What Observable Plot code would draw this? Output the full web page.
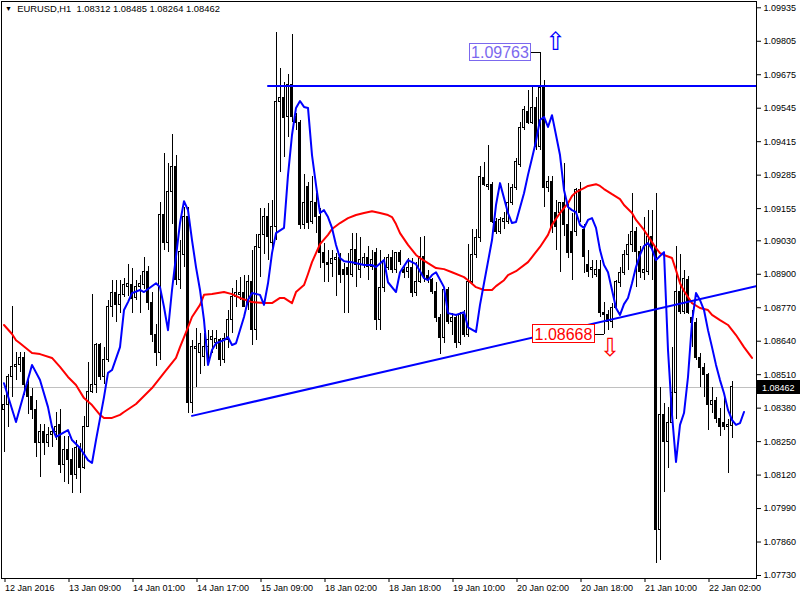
<!DOCTYPE html>
<html><head><meta charset="utf-8">
<script src="https://cdn.jsdelivr.net/npm/d3@7"></script>
<script src="https://cdn.jsdelivr.net/npm/@observablehq/plot@0.6"></script>
<style>
body{margin:0;background:#fff;}
#wrap{position:relative;width:800px;height:600px;overflow:hidden;background:#fff;}
#title{position:absolute;left:5px;top:3px;font:9.4px "Liberation Sans",Arial,sans-serif;color:#000;white-space:pre;}
#title .tri{font-size:7px;position:relative;top:-1px;}
</style></head><body><div id="wrap"><div id="title"></div></div>
<script>
const symbol = "EURUSD,H1";
const timeTickBars = [0,16,32,48,64,80,96,112,128,144,160,176];
const timeTickLabels = ["12 Jan 2016","13 Jan 09:00","14 Jan 01:00","14 Jan 17:00","15 Jan 09:00","18 Jan 02:00","18 Jan 18:00","19 Jan 10:00","20 Jan 02:00","20 Jan 18:00","21 Jan 10:00","22 Jan 02:00"];
const priceTickLabels = ["1.09935","1.09805","1.09675","1.09545","1.09415","1.09285","1.09155","1.09030","1.08900","1.08770","1.08640","1.08510","1.08380","1.08250","1.08120","1.07990","1.07860","1.07730"];

const open = [
1.08373,1.08392,1.08501,1.08540,1.08548,1.08575,1.08470,1.08423,1.08373,1.08244,
1.08287,1.08244,1.08276,1.08287,1.08315,1.08159,1.08217,1.08178,1.08121,1.08225,
1.08147,1.08307,1.08442,1.08470,1.08625,1.08501,1.08567,1.08773,1.08827,1.08781,
1.08820,1.08850,1.08858,1.08808,1.08850,1.08858,1.08908,1.08788,1.08664,1.08594,
1.09130,1.09021,1.09219,1.09317,1.08877,1.08975,1.09122,1.08399,1.08609,1.08594,
1.08579,1.08617,1.08644,1.08632,1.08644,1.08567,1.08644,1.08722,1.08812,1.08820,
1.08827,1.08781,1.08869,1.08683,1.09002,1.09053,1.09122,1.09021,1.09084,1.09569,
1.09584,1.09511,1.09635,1.09511,1.09487,1.09092,1.09239,1.09103,1.09176,1.09122,
1.08982,1.08943,1.08939,1.08955,1.08963,1.08916,1.08924,1.08897,1.08994,1.08916,
1.08936,1.08963,1.08928,1.08982,1.08722,1.08846,1.08924,1.08963,1.08916,1.08982,
1.08916,1.08908,1.08924,1.08827,1.08869,1.08967,1.08893,1.08877,1.08831,1.08730,
1.08652,1.08839,1.08714,1.08730,1.08632,1.08742,1.08664,1.08869,1.08975,1.09041,
1.09274,1.09239,1.09247,1.09103,1.09064,1.09103,1.09103,1.09176,1.09235,1.09325,
1.09468,1.09530,1.09487,1.09546,1.09394,1.09623,1.09235,1.09258,1.09137,1.09137,
1.09176,1.09092,1.09064,1.09064,1.09227,1.09072,1.08936,1.08916,1.08897,1.08916,
1.08749,1.08742,1.08714,1.08769,1.08865,1.08904,1.08975,1.09014,1.09064,1.08986,
1.08904,1.08908,1.09045,1.09006,1.07906,1.08354,1.08248,1.08322,1.08438,1.08831,
1.08753,1.08877,1.08730,1.08710,1.08575,1.08536,1.08509,1.08392,1.08407,1.08338,
1.08322,1.08307,1.08312];
const high = [
1.08431,1.08509,1.08773,1.08598,1.08598,1.08598,1.08501,1.08458,1.08411,1.08315,
1.08315,1.08303,1.08307,1.08365,1.08373,1.08268,1.08268,1.08225,1.08256,1.08244,
1.08346,1.08559,1.08820,1.08632,1.08632,1.08617,1.08800,1.08877,1.08877,1.08877,
1.08885,1.08939,1.08924,1.08877,1.08897,1.08967,1.08932,1.08831,1.08703,1.09180,
1.09370,1.09332,1.09441,1.09363,1.09033,1.09161,1.09161,1.08644,1.08691,1.08671,
1.08671,1.08683,1.08683,1.08683,1.08652,1.08671,1.08761,1.08846,1.08877,1.08889,
1.08897,1.08897,1.08994,1.09053,1.09157,1.09157,1.09176,1.09188,1.09841,1.09701,
1.09646,1.09674,1.09830,1.09526,1.09499,1.09286,1.09258,1.09278,1.09215,1.09157,
1.09021,1.08994,1.08994,1.08982,1.08982,1.08943,1.08982,1.09060,1.09060,1.09041,
1.08982,1.09006,1.08994,1.09002,1.08994,1.08967,1.08975,1.08994,1.08986,1.08994,
1.08936,1.08963,1.08963,1.08947,1.09041,1.09045,1.08916,1.08885,1.08869,1.08742,
1.08850,1.08850,1.08749,1.08742,1.08753,1.08761,1.09014,1.09072,1.09072,1.09317,
1.09336,1.09402,1.09258,1.09118,1.09122,1.09141,1.09254,1.09247,1.09351,1.09491,
1.09550,1.09615,1.09635,1.09588,1.09763,1.09654,1.09278,1.09278,1.09188,1.09180,
1.09332,1.09176,1.09137,1.09235,1.09258,1.09092,1.08994,1.08955,1.08955,1.08955,
1.08792,1.08761,1.08788,1.08877,1.08928,1.08994,1.09053,1.09215,1.09080,1.09006,
1.09122,1.09149,1.09149,1.09215,1.08462,1.08399,1.08384,1.08617,1.09006,1.08975,
1.08916,1.08893,1.08761,1.08730,1.08594,1.08555,1.08516,1.08462,1.08423,1.08380,
1.08438,1.08334,1.08485];
const low = [
1.08209,1.08303,1.08423,1.08489,1.08520,1.08431,1.08354,1.08334,1.08190,1.08109,
1.08198,1.08229,1.08229,1.08256,1.08128,1.08093,1.08082,1.08050,1.08101,1.08050,
1.08140,1.08303,1.08438,1.08438,1.08489,1.08470,1.08559,1.08734,1.08714,1.08749,
1.08808,1.08812,1.08749,1.08800,1.08749,1.08839,1.08761,1.08636,1.08540,1.08567,
1.08994,1.08986,1.09092,1.08858,1.08839,1.08928,1.08361,1.08361,1.08462,1.08509,
1.08540,1.08559,1.08594,1.08606,1.08540,1.08555,1.08613,1.08671,1.08769,1.08800,
1.08769,1.08761,1.08625,1.08644,1.08889,1.08975,1.08955,1.08982,1.09033,1.09297,
1.09355,1.09433,1.09491,1.09460,1.09072,1.09072,1.09072,1.09092,1.09060,1.08924,
1.08869,1.08869,1.08889,1.08812,1.08865,1.08749,1.08749,1.08889,1.08850,1.08885,
1.08924,1.08877,1.08916,1.08683,1.08683,1.08831,1.08916,1.08904,1.08904,1.08936,
1.08885,1.08885,1.08808,1.08812,1.08865,1.08869,1.08865,1.08820,1.08714,1.08587,
1.08632,1.08703,1.08664,1.08613,1.08625,1.08656,1.08656,1.08865,1.08963,1.09025,
1.09239,1.09227,1.09099,1.09053,1.09053,1.09072,1.09092,1.09169,1.09227,1.09313,
1.09460,1.09480,1.09480,1.09382,1.09382,1.09161,1.09219,1.09060,1.08994,1.08908,
1.09045,1.08963,1.08877,1.09045,1.09103,1.08904,1.08889,1.08885,1.08889,1.08734,
1.08668,1.08683,1.08691,1.08761,1.08850,1.08897,1.08916,1.08986,1.08850,1.08885,
1.08877,1.08897,1.08877,1.07778,1.07790,1.08054,1.08147,1.08307,1.08334,1.08742,
1.08742,1.08742,1.08617,1.08567,1.08462,1.08423,1.08295,1.08361,1.08322,1.08268,
1.08295,1.08128,1.08264];
const close = [
1.08392,1.08501,1.08540,1.08548,1.08575,1.08470,1.08423,1.08373,1.08244,1.08287,
1.08244,1.08276,1.08287,1.08307,1.08159,1.08217,1.08178,1.08121,1.08225,1.08147,
1.08307,1.08442,1.08470,1.08625,1.08501,1.08567,1.08773,1.08827,1.08781,1.08820,
1.08858,1.08861,1.08804,1.08850,1.08861,1.08908,1.08788,1.08664,1.08594,1.09130,
1.09021,1.09219,1.09317,1.08877,1.08986,1.09122,1.08399,1.08617,1.08617,1.08628,
1.08617,1.08644,1.08656,1.08648,1.08567,1.08648,1.08722,1.08812,1.08827,1.08827,
1.08773,1.08869,1.08683,1.09006,1.09053,1.09122,1.09045,1.09084,1.09569,1.09584,
1.09507,1.09635,1.09511,1.09487,1.09092,1.09176,1.09099,1.09180,1.09122,1.08982,
1.08943,1.08936,1.08959,1.08963,1.08897,1.08897,1.08897,1.08994,1.08936,1.08955,
1.08963,1.08928,1.08955,1.08722,1.08846,1.08947,1.08963,1.08916,1.08982,1.08947,
1.08904,1.08924,1.08827,1.08869,1.08967,1.08889,1.08877,1.08831,1.08730,1.08652,
1.08839,1.08714,1.08730,1.08632,1.08742,1.08664,1.08869,1.08975,1.09041,1.09278,
1.09247,1.09247,1.09103,1.09064,1.09111,1.09114,1.09176,1.09235,1.09336,1.09468,
1.09538,1.09487,1.09546,1.09394,1.09623,1.09235,1.09258,1.09084,1.09084,1.09176,
1.09092,1.08982,1.08982,1.09227,1.09137,1.08967,1.08908,1.08924,1.08916,1.08749,
1.08742,1.08714,1.08769,1.08869,1.08904,1.08975,1.09014,1.09064,1.08986,1.08908,
1.08916,1.09045,1.09006,1.07906,1.08354,1.08248,1.08322,1.08438,1.08831,1.08753,
1.08881,1.08749,1.08710,1.08575,1.08536,1.08509,1.08392,1.08407,1.08338,1.08307,
1.08307,1.08315,1.08462];

// fast moving average (blue), [bar, price]
const blueMA = [[0,1.08477],[3,1.08326],[7,1.08548],[9,1.08489],[11,1.08384],[12,1.08307],[13,1.08268],[16,1.08295],[17,1.08256],[19,1.08225],[21,1.08178],[22,1.08167],[23,1.08256],[25,1.08423],[26,1.08517],[27,1.08528],[29,1.08617],[30,1.08761],[31,1.08792],[32,1.08827],[34,1.08839],[35,1.08831],[38,1.08865],[39,1.08850],[40,1.08773],[41,1.08683],[42,1.08839],[44,1.09099],[45,1.09184],[46,1.09149],[47,1.09033],[48,1.08928],[49,1.08839],[50,1.08722],[51,1.08548],[52,1.08606],[53,1.08632],[55,1.08644],[56,1.08656],[57,1.08625],[58,1.08632],[60,1.08734],[61,1.08800],[62,1.08827],[64,1.08820],[65,1.08781],[66,1.08865],[67,1.08982],[68,1.09060],[70,1.09080],[71,1.09285],[72,1.09441],[73,1.09546],[74,1.09573],[75,1.09550],[76,1.09546],[77,1.09363],[78,1.09247],[79,1.09138],[80,1.09149],[81,1.09122],[82,1.09080],[83,1.09014],[84,1.08963],[85,1.08951],[87,1.08947],[90,1.08936],[92,1.08936],[93,1.08928],[95,1.08955],[96,1.08869],[98,1.08831],[99,1.08908],[101,1.08955],[103,1.08939],[105,1.08885],[106,1.08877],[107,1.08897],[108,1.08908],[110,1.08850],[111,1.08749],[113,1.08742],[115,1.08753],[116,1.08694],[118,1.08676],[119,1.08781],[120,1.08865],[122,1.09033],[123,1.09169],[124,1.09254],[126,1.09138],[127,1.09099],[128,1.09103],[130,1.09215],[131,1.09286],[132,1.09351],[133,1.09417],[134,1.09499],[135,1.09511],[136,1.09472],[137,1.09518],[138,1.09441],[139,1.09363],[140,1.09227],[141,1.09161],[142,1.09149],[143,1.09141],[144,1.09092],[145,1.09080],[146,1.09111],[147,1.09118],[148,1.09080],[149,1.08994],[150,1.08936],[151,1.08908],[152,1.08839],[153,1.08769],[154,1.08742],[155,1.08784],[156,1.08808],[157,1.08865],[158,1.08928],[159,1.08975],[160,1.09010],[161,1.09021],[162,1.08998],[163,1.08955],[164,1.08971],[165,1.08986],[166,1.08606],[167,1.08354],[168,1.08171],[169,1.08315],[170,1.08361],[171,1.08501],[172,1.08714],[173,1.08827],[174,1.08800],[175,1.08761],[176,1.08683],[177,1.08617],[178,1.08548],[179,1.08489],[180,1.08438],[181,1.08373],[182,1.08334],[183,1.08315],[184,1.08322],[185,1.08365]];
// slow moving average (red), [bar, price]
const redMA = [[0,1.08703],[2,1.08668],[3,1.08644],[4,1.08632],[7,1.08594],[9,1.08590],[12,1.08575],[14,1.08540],[16,1.08501],[18,1.08470],[20,1.08419],[22,1.08392],[24,1.08354],[25,1.08342],[27,1.08342],[29,1.08354],[30,1.08365],[33,1.08396],[37,1.08458],[40,1.08517],[43,1.08575],[44,1.08617],[46,1.08694],[47,1.08734],[49,1.08781],[50,1.08820],[52,1.08823],[55,1.08831],[57,1.08823],[59,1.08808],[62,1.08792],[65,1.08788],[67,1.08788],[69,1.08808],[70,1.08808],[72,1.08788],[73,1.08831],[75,1.08858],[76,1.08901],[77,1.08947],[78,1.08982],[79,1.09017],[81,1.09053],[82,1.09076],[84,1.09099],[86,1.09118],[88,1.09130],[90,1.09138],[92,1.09145],[94,1.09138],[96,1.09130],[97,1.09122],[98,1.09095],[99,1.09060],[101,1.09014],[103,1.08975],[104,1.08963],[106,1.08943],[108,1.08924],[110,1.08920],[112,1.08908],[115,1.08889],[116,1.08877],[118,1.08850],[120,1.08839],[122,1.08839],[123,1.08854],[125,1.08877],[126,1.08897],[128,1.08912],[131,1.08947],[132,1.08967],[134,1.09006],[136,1.09053],[137,1.09092],[139,1.09138],[141,1.09176],[142,1.09204],[143,1.09219],[145,1.09235],[146,1.09243],[148,1.09250],[149,1.09243],[150,1.09231],[152,1.09211],[154,1.09192],[155,1.09169],[157,1.09138],[158,1.09111],[160,1.09072],[162,1.09025],[163,1.09002],[164,1.08982],[165,1.08975],[167,1.08963],[168,1.08916],[169,1.08865],[170,1.08835],[172,1.08788],[174,1.08769],[175,1.08765],[176,1.08761],[177,1.08742],[179,1.08722],[181,1.08703],[183,1.08664],[185,1.08617],[187,1.08575]];

const resistanceLine = [[66,1.09631],[188,1.09631]];
const supportLine = [[47,1.08350],[188,1.08854]];
const highMark = {bar:134, price:1.09763};
const lowMark = {bar:150, price:1.08668};

const bars = open.map((o,i)=>({i, o, h:high[i], l:low[i], c:close[i]}));
const up = bars.filter(d=>d.c>=d.o), down = bars.filter(d=>d.c<d.o);
const last = bars[bars.length-1];
const purple = "#7b68ee";

document.getElementById("title").innerHTML =
  `<span class="tri">▼</span>  ${symbol}  ${last.o.toFixed(5)} ${last.h.toFixed(5)} ${last.l.toFixed(5)} ${last.c.toFixed(5)}`;

const chart = Plot.plot({
  width: 800, height: 600,
  marginLeft: 1, marginTop: 1, marginRight: 44, marginBottom: 22,
  style: {background:"white", fontFamily:"'Liberation Sans', Arial, sans-serif", fontSize:"9px", color:"black"},
  x: {type:"linear", domain:[0,187], range:[3.5,751.5]},
  y: {type:"linear", domain:[1.07730,1.09935], range:[575,7.3]},
  marks: [
    Plot.ruleY([last.c], {stroke:"#c0c0c0", strokeWidth:1, shapeRendering:"crispEdges"}),
    Plot.ruleX(bars, {x:"i", y1:"l", y2:"h", stroke:"black", strokeWidth:1, shapeRendering:"crispEdges", clip:true}),
    Plot.rect(up, {x1:d=>d.i-0.25, x2:d=>d.i+0.25, y1:"o", y2:"c", fill:"white", stroke:"black", strokeWidth:1, shapeRendering:"crispEdges", clip:true}),
    Plot.rect(down, {x1:d=>d.i-0.25, x2:d=>d.i+0.25, y1:"o", y2:"c", fill:"black", stroke:"black", strokeWidth:1, shapeRendering:"crispEdges", clip:true}),
    Plot.line(redMA, {x:d=>d[0], y:d=>d[1], stroke:"#ff0000", strokeWidth:2, clip:true}),
    Plot.line(blueMA, {x:d=>d[0], y:d=>d[1], stroke:"#0000ff", strokeWidth:2, clip:true}),
    Plot.line(resistanceLine, {x:d=>d[0], y:d=>d[1], stroke:"#0000ff", strokeWidth:2, clip:true}),
    Plot.line(supportLine, {x:d=>d[0], y:d=>d[1], stroke:"#0000ff", strokeWidth:2, clip:true}),
    // high label
    Plot.ruleY([highMark], {y:"price", x1:d=>d.bar-2.4, x2:"bar", stroke:"black", strokeWidth:1, shapeRendering:"crispEdges"}),
    Plot.rect([highMark], {x1:"bar", x2:"bar", y1:"price", y2:"price", insetLeft:-70.5, insetRight:9.5, insetTop:-7.6, insetBottom:-9.4, fill:"white", stroke:purple, strokeWidth:1, shapeRendering:"crispEdges"}),
    Plot.text([highMark], {x:"bar", y:"price", text:d=>d.price.toFixed(5), dx:-40, dy:1, fill:purple, fontSize:16}),
    Plot.text([highMark], {x:"bar", y:"price", text:()=>"⇧", dx:15.5, dy:-10, fill:"#0000ff", fontSize:25, fontFamily:"DejaVu Sans"}),
    // low label
    Plot.ruleY([lowMark], {y:"price", x1:d=>d.bar-2.4, x2:"bar", stroke:"black", strokeWidth:1, shapeRendering:"crispEdges"}),
    Plot.rect([lowMark], {x1:"bar", x2:"bar", y1:"price", y2:"price", insetLeft:-71.5, insetRight:9.5, insetTop:-9.3, insetBottom:-8.7, fill:"white", stroke:"#ff0000", strokeWidth:1, shapeRendering:"crispEdges"}),
    Plot.text([lowMark], {x:"bar", y:"price", text:d=>d.price.toFixed(5), dx:-40.5, dy:1, fill:"#ff0000", fontSize:16}),
    Plot.text([lowMark], {x:"bar", y:"price", text:()=>"⇩", dx:6, dy:14, fill:"#ff0000", fontSize:25, fontFamily:"DejaVu Sans"}),
    Plot.frame({stroke:"black"}),
    Plot.axisY({anchor:"right", ticks:priceTickLabels.map(Number), tickFormat:d=>d.toFixed(5), tickSize:4, tickPadding:3, label:null, fontSize:9}),
    Plot.axisX({anchor:"bottom", ticks:timeTickBars, tickFormat:d=>timeTickLabels[timeTickBars.indexOf(d)], tickSize:4, tickPadding:2, textAnchor:"start", dx:1, label:null, fontSize:9})
  ]
});
document.getElementById("wrap").insertBefore(chart, document.getElementById("title"));

// current price tag on the price axis
const yPix = chart.scale("y").apply(last.c);
const svg = d3.select(chart);
svg.append("rect").attr("x",757).attr("y",Math.round(yPix)-7).attr("width",43).attr("height",14).attr("fill","black");
svg.append("text").attr("x",762).attr("y",Math.round(yPix)+3.5).attr("fill","white").attr("text-anchor","start")
  .attr("font-family","'Liberation Sans', Arial, sans-serif").attr("font-size",9).text(last.c.toFixed(5));
</script></body></html>
